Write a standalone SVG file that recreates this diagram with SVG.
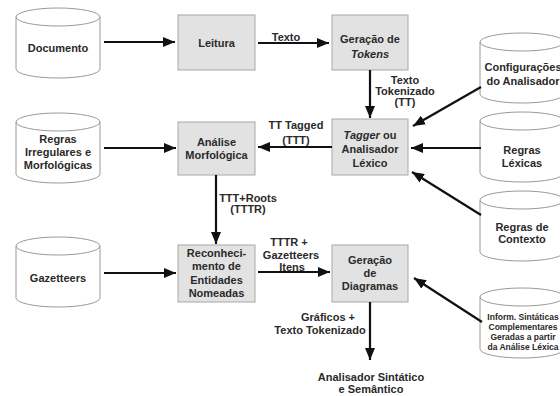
<svg xmlns="http://www.w3.org/2000/svg" width="560" height="396" viewBox="0 0 560 396">
  <defs>
    <style>
      .cyl { fill: #ffffff; stroke: #9a9a9a; stroke-width: 1; }
      .box { fill: #e2e2e2; stroke: #a8a8a8; stroke-width: 1; }
      .t { font-family: "Liberation Sans", Arial, sans-serif; font-size: 11px; font-weight: bold; fill: #2a2a2a; text-anchor: middle; }
      .s { font-size: 8.5px; }
      .edge { stroke: #111; stroke-width: 2.2; fill: none; marker-end: url(#arrow); }
    </style>
    <marker id="arrow" markerUnits="userSpaceOnUse" markerWidth="13" markerHeight="10" refX="12" refY="5" orient="auto">
      <path d="M0,0 L12,5 L0,10 z" fill="#111"/>
    </marker>
    <!-- cylinder (database) outline, 84 wide x 70 tall -->
    <path id="cyl" d="M0,9 v52 a42,9 0 0 0 84,0 v-52 a42,9 0 0 0 -84,0 a42,9 0 0 0 84,0"/>
  </defs>

  <rect width="560" height="396" fill="#ffffff"/>

  <!-- data stores, left column -->
  <g id="documento">
    <use href="#cyl" class="cyl" x="16" y="8"/>
    <text class="t" x="58" y="52">Documento</text>
  </g>
  <g id="regras-irregulares">
    <use href="#cyl" class="cyl" x="16" y="113"/>
    <text class="t" x="58" y="143">Regras</text>
    <text class="t" x="58" y="156">Irregulares e</text>
    <text class="t" x="58" y="169">Morfológicas</text>
  </g>
  <g id="gazetteers">
    <use href="#cyl" class="cyl" x="16" y="237"/>
    <text class="t" x="58" y="282">Gazetteers</text>
  </g>

  <!-- processing steps -->
  <g id="leitura">
    <rect class="box" x="178" y="15" width="77" height="55"/>
    <text class="t" x="216.5" y="47">Leitura</text>
  </g>
  <g id="geracao-tokens">
    <rect class="box" x="332" y="15" width="76" height="55"/>
    <text class="t" x="370" y="43">Geração de</text>
    <text class="t" x="370" y="58" font-style="italic">Tokens</text>
  </g>
  <g id="analise-morfologica">
    <rect class="box" x="178" y="122" width="77" height="53"/>
    <text class="t" x="216.5" y="146">Análise</text>
    <text class="t" x="216.5" y="159">Morfológica</text>
  </g>
  <g id="tagger">
    <rect class="box" x="332" y="119" width="76" height="56"/>
    <text class="t" x="370" y="139"><tspan font-style="italic">Tagger</tspan> ou</text>
    <text class="t" x="370" y="153">Analisador</text>
    <text class="t" x="370" y="167">Léxico</text>
  </g>
  <g id="reconhecimento">
    <rect class="box" x="178" y="245" width="77" height="57"/>
    <text class="t" x="216.5" y="257">Reconheci-</text>
    <text class="t" x="216.5" y="270">mento de</text>
    <text class="t" x="216.5" y="284">Entidades</text>
    <text class="t" x="216.5" y="297">Nomeadas</text>
  </g>
  <g id="geracao-diagramas">
    <rect class="box" x="332" y="245" width="76" height="57"/>
    <text class="t" x="370" y="264">Geração</text>
    <text class="t" x="370" y="277">de</text>
    <text class="t" x="370" y="290">Diagramas</text>
  </g>

  <!-- data stores, right column -->
  <g id="configuracoes">
    <use href="#cyl" class="cyl" x="480" y="33"/>
    <text class="t" x="523" y="71">Configurações</text>
    <text class="t" x="523" y="85">do Analisador</text>
  </g>
  <g id="regras-lexicas">
    <use href="#cyl" class="cyl" x="480" y="112"/>
    <text class="t" x="522" y="154">Regras</text>
    <text class="t" x="522" y="167">Léxicas</text>
  </g>
  <g id="regras-contexto">
    <use href="#cyl" class="cyl" x="480" y="191"/>
    <text class="t" x="522" y="231">Regras de</text>
    <text class="t" x="522" y="243">Contexto</text>
  </g>
  <g id="inform-sintaticas">
    <use href="#cyl" class="cyl" x="480" y="288"/>
    <text class="t s" x="523" y="320">Inform. Sintáticas</text>
    <text class="t s" x="523" y="330">Complementares</text>
    <text class="t s" x="523" y="340">Geradas a partir</text>
    <text class="t s" x="523" y="350">da Análise Léxica</text>
  </g>

  <!-- final consumer -->
  <g id="analisador-sintatico">
    <text class="t" x="371" y="381">Analisador Sintático</text>
    <text class="t" x="371" y="393">e Semântico</text>
  </g>

  <!-- connectors -->
  <g id="connectors">
    <line class="edge" x1="104" y1="42" x2="175" y2="42"/>
    <line class="edge" x1="258" y1="43" x2="329" y2="43"/>
    <line class="edge" x1="370" y1="70" x2="370" y2="118"/>
    <line class="edge" x1="481" y1="87" x2="413" y2="126"/>
    <line class="edge" x1="481" y1="148" x2="411" y2="148"/>
    <line class="edge" x1="481" y1="215" x2="412" y2="172"/>
    <line class="edge" x1="332" y1="147" x2="258" y2="147"/>
    <line class="edge" x1="104" y1="148" x2="176" y2="148"/>
    <line class="edge" x1="216" y1="175" x2="216" y2="244"/>
    <line class="edge" x1="104" y1="273" x2="176" y2="273"/>
    <line class="edge" x1="258" y1="272" x2="330" y2="272"/>
    <line class="edge" x1="482" y1="322" x2="414" y2="278"/>
    <line class="edge" x1="370" y1="302" x2="370" y2="360"/>

    <!-- connector labels -->
    <text class="t" x="286" y="41">Texto</text>
    <text class="t" x="405" y="84">Texto</text>
    <text class="t" x="405" y="95">Tokenizado</text>
    <text class="t" x="405" y="106">(TT)</text>
    <text class="t" x="296" y="129">TT Tagged</text>
    <text class="t" x="296" y="144">(TTT)</text>
    <text class="t" x="248" y="202">TTT+Roots</text>
    <text class="t" x="248" y="213">(TTTR)</text>
    <text class="t" x="289" y="246">TTTR +</text>
    <text class="t" x="291" y="259">Gazetteers</text>
    <text class="t" x="292" y="271">Itens</text>
    <text class="t" x="328" y="321">Gráficos +</text>
    <text class="t" x="320" y="334">Texto Tokenizado</text>
  </g>
</svg>
